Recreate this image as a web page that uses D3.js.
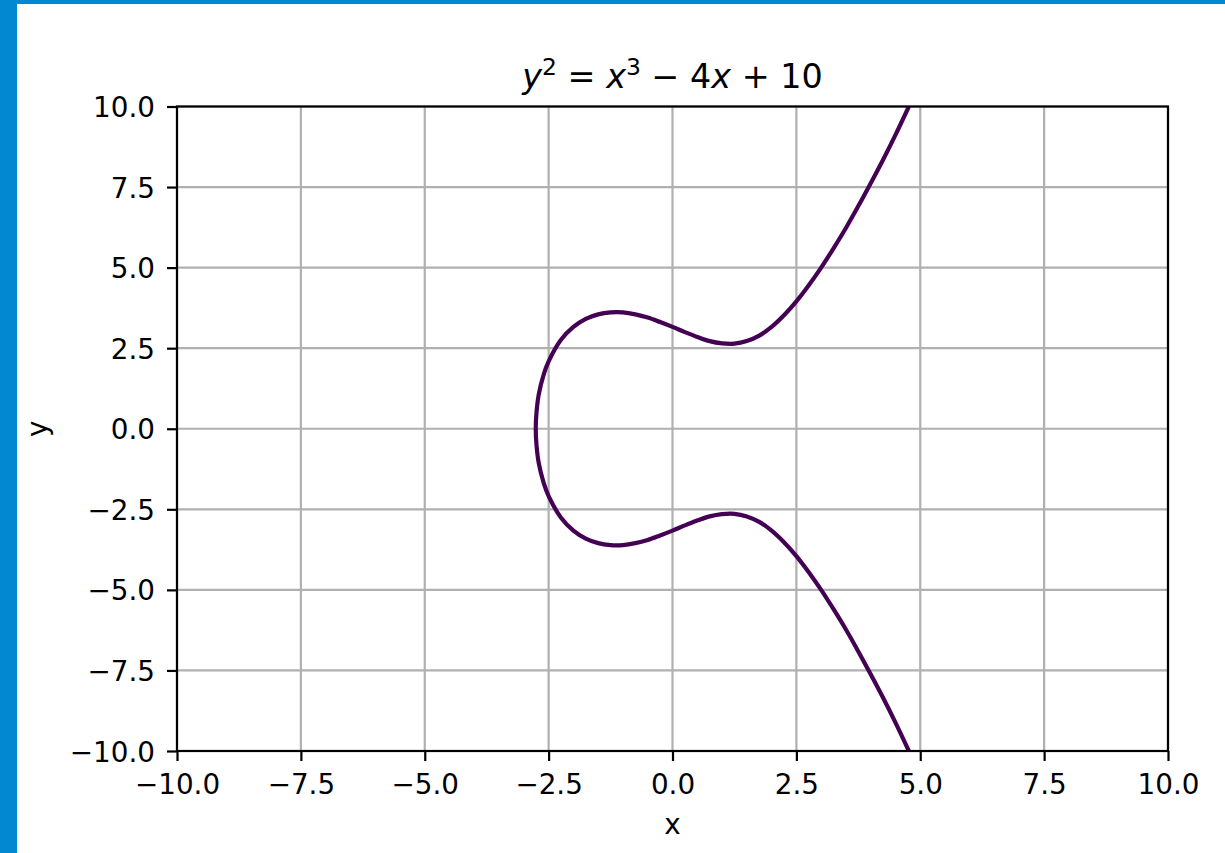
<!DOCTYPE html>
<html>
<head>
<meta charset="utf-8">
<script src="https://cdn.jsdelivr.net/npm/d3@7"></script>
<style>
  html, body { margin: 0; padding: 0; background: #ffffff; }
  svg { display: block; }
  text { font-family: "DejaVu Sans", sans-serif; fill: #000; }
</style>
</head>
<body>
<svg id="chart" width="1225" height="853"></svg>
<script>
// Points along the curve y^2 = x^3 - 4x + 10, traced from the top-right end,
// around the left vertex, down to the bottom-right end.
const curveX = [4.77, 4.5, 4.25, 4.0, 3.75, 3.5, 3.25, 3.0, 2.75, 2.5, 2.25, 2.0, 1.75, 1.5, 1.25, 1.0,
  0.75, 0.5, 0.25, 0.0, -0.25, -0.5, -0.75, -1.0, -1.25, -1.5, -1.75, -2.0, -2.25, -2.5, -2.6, -2.7, -2.745,
  -2.76,
  -2.745, -2.7, -2.6, -2.5, -2.25, -2.0, -1.75, -1.5, -1.25, -1.0, -0.75, -0.5, -0.25, 0.0, 0.25, 0.5, 0.75,
  1.0, 1.25, 1.5, 1.75, 2.0, 2.25, 2.5, 2.75, 3.0, 3.25, 3.5, 3.75, 4.0, 4.25, 4.5, 4.77];
const curveY = [10.0, 9.12, 8.35, 7.62, 6.91, 6.23, 5.60, 5.0, 4.45, 3.95, 3.52, 3.16, 2.89, 2.72, 2.64, 2.65,
  2.72, 2.85, 3.0, 3.16, 3.31, 3.45, 3.55, 3.61, 3.61, 3.55, 3.41, 3.16, 2.76, 2.09, 1.68, 1.06, 0.5,
  0.0,
  -0.5, -1.06, -1.68, -2.09, -2.76, -3.16, -3.41, -3.55, -3.61, -3.61, -3.55, -3.45, -3.31, -3.16, -3.0, -2.85, -2.72,
  -2.65, -2.64, -2.72, -2.89, -3.16, -3.52, -3.95, -4.45, -5.0, -5.60, -6.23, -6.91, -7.62, -8.35, -9.12, -10.0];

const xTicks = [-10, -7.5, -5, -2.5, 0, 2.5, 5, 7.5, 10];
const yTicks = [-10, -7.5, -5, -2.5, 0, 2.5, 5, 7.5, 10];
const xDomain = [-10, 10];
const yDomain = [-10, 10];

const svg = d3.select("#chart");
const W = 1225, H = 853;
const plot = { left: 177, right: 1168, top: 106.5, bottom: 751 };
const lw = 2.2;

// Frame bars on the left and top edges
svg.append("rect").attr("x", 0).attr("y", 0).attr("width", W).attr("height", H).attr("fill", "#ffffff");
svg.append("rect").attr("x", 0).attr("y", 0).attr("width", 17).attr("height", H).attr("fill", "#0288d1");
svg.append("rect").attr("x", 0).attr("y", 0).attr("width", W).attr("height", 4).attr("fill", "#0288d1");

const x = d3.scaleLinear().domain(xDomain).range([plot.left, plot.right]);
const y = d3.scaleLinear().domain(yDomain).range([plot.bottom, plot.top]);
const fmt = d3.format(".1f");

// Grid lines
const grid = svg.append("g").attr("stroke", "#b0b0b0").attr("stroke-width", lw);
grid.selectAll("line.gx").data(xTicks).join("line")
  .attr("x1", d => x(d)).attr("x2", d => x(d))
  .attr("y1", plot.top).attr("y2", plot.bottom);
grid.selectAll("line.gy").data(yTicks).join("line")
  .attr("y1", d => y(d)).attr("y2", d => y(d))
  .attr("x1", plot.left).attr("x2", plot.right);

// Curve, clipped to the plotting area
svg.append("clipPath").attr("id", "plotclip").append("rect")
  .attr("x", plot.left).attr("y", plot.top)
  .attr("width", plot.right - plot.left).attr("height", plot.bottom - plot.top);

const pts = curveX.map((v, i) => [v, curveY[i]]);
const line = d3.line().x(d => x(d[0])).y(d => y(d[1])).curve(d3.curveCatmullRom.alpha(0.5));
svg.append("path")
  .attr("clip-path", "url(#plotclip)")
  .attr("d", line(pts))
  .attr("fill", "none")
  .attr("stroke", "#440154")
  .attr("stroke-width", 4.2)
  .attr("stroke-linejoin", "round")
  .attr("stroke-linecap", "butt");

// Axes
const xAxis = d3.axisBottom(x).tickValues(xTicks).tickFormat(fmt).tickSize(10).tickSizeOuter(0);
const yAxis = d3.axisLeft(y).tickValues(yTicks).tickFormat(fmt).tickSize(10).tickSizeOuter(0);

const gx = svg.append("g").attr("transform", `translate(0,${plot.bottom})`).call(xAxis);
const gy = svg.append("g").attr("transform", `translate(${plot.left},0)`).call(yAxis);
[gx, gy].forEach(g => {
  g.select(".domain").remove();
  g.selectAll(".tick line").attr("stroke", "#000").attr("stroke-width", lw);
  g.selectAll(".tick text").attr("font-size", 27.8).attr("font-family", "DejaVu Sans").attr("fill", "#000");
});
gx.selectAll(".tick text").attr("y", 43).attr("dy", 0);
gy.selectAll(".tick text").attr("x", -22).attr("dy", "0.36em");

// Spines
svg.append("rect")
  .attr("x", plot.left).attr("y", plot.top)
  .attr("width", plot.right - plot.left).attr("height", plot.bottom - plot.top)
  .attr("fill", "none").attr("stroke", "#000").attr("stroke-width", lw);

// Axis labels
svg.append("text").attr("x", (plot.left + plot.right) / 2).attr("y", 834)
  .attr("text-anchor", "middle").attr("font-size", 27.8).text("x");
svg.append("text").attr("transform", `translate(47,${(plot.top + plot.bottom) / 2}) rotate(-90)`)
  .attr("text-anchor", "middle").attr("font-size", 27.8).text("y");

// Title with math-style italics and superscripts
const title = svg.append("text").attr("x", (plot.left + plot.right) / 2).attr("y", 88)
  .attr("text-anchor", "middle").attr("font-size", 33.4);
const parts = [
  { t: "y", it: true },
  { t: "2", sup: true },
  { t: " = ", gap: true },
  { t: "x", it: true },
  { t: "3", sup: true },
  { t: " − 4", gap: true },
  { t: "x", it: true },
  { t: " + 10" }
];
let raised = false;
parts.forEach(p => {
  const ts = title.append("tspan").text(p.t);
  if (p.it) ts.attr("font-style", "italic");
  if (p.sup) {
    ts.attr("font-size", 23.4).attr("dy", -13);
    raised = true;
  } else if (raised) {
    ts.attr("dy", 13);
    raised = false;
  }
});
</script>
</body>
</html>
